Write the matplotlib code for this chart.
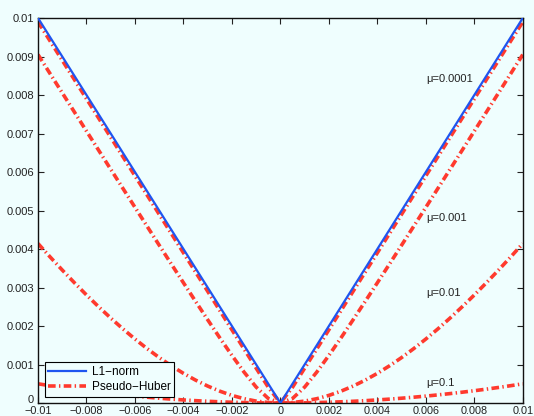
import matplotlib
matplotlib.use("Agg")
import matplotlib.pyplot as plt
import matplotlib.transforms as mtransforms
from matplotlib.lines import Line2D

plt.rcParams['font.family'] = ['Liberation Sans', 'DejaVu Sans']
plt.rcParams['lines.scale_dashes'] = False

x = [-0.01, -0.0095, -0.009, -0.0085, -0.008, -0.0075, -0.007, -0.0065, -0.006, -0.0055,
     -0.005, -0.0045, -0.004, -0.0035, -0.003, -0.0025, -0.002, -0.0015, -0.001, -0.0005,
     0.0,
     0.0005, 0.001, 0.0015, 0.002, 0.0025, 0.003, 0.0035, 0.004, 0.0045, 0.005,
     0.0055, 0.006, 0.0065, 0.007, 0.0075, 0.008, 0.0085, 0.009, 0.0095, 0.01]

l1_norm = [0.01, 0.0095, 0.009, 0.0085, 0.008, 0.0075, 0.007, 0.0065, 0.006, 0.0055,
           0.005, 0.0045, 0.004, 0.0035, 0.003, 0.0025, 0.002, 0.0015, 0.001, 0.0005,
           0.0,
           0.0005, 0.001, 0.0015, 0.002, 0.0025, 0.003, 0.0035, 0.004, 0.0045, 0.005,
           0.0055, 0.006, 0.0065, 0.007, 0.0075, 0.008, 0.0085, 0.009, 0.0095, 0.01]

huber_1e4 = [0.0099005, 0.0094005, 0.0089006, 0.0084006, 0.0079006, 0.0074007, 0.0069007,
             0.0064008, 0.0059008, 0.0054009, 0.004901, 0.0044011, 0.0039012, 0.0034014,
             0.0029017, 0.002402, 0.0019025, 0.0014033, 0.000905, 0.00041,
             0.0,
             0.00041, 0.000905, 0.0014033, 0.0019025, 0.002402, 0.0029017, 0.0034014,
             0.0039012, 0.0044011, 0.004901, 0.0054009, 0.0059008, 0.0064008, 0.0069007,
             0.0074007, 0.0079006, 0.0084006, 0.0089006, 0.0094005, 0.0099005]

huber_1e3 = [0.0090499, 0.0085525, 0.0080554, 0.0075586, 0.0070623, 0.0065664, 0.0060711,
             0.0055765, 0.0050828, 0.0045902, 0.004099, 0.0036098, 0.0031231, 0.0026401,
             0.0021623, 0.0016926, 0.0012361, 0.0008028, 0.0004142, 0.000118,
             0.0,
             0.000118, 0.0004142, 0.0008028, 0.0012361, 0.0016926, 0.0021623, 0.0026401,
             0.0031231, 0.0036098, 0.004099, 0.0045902, 0.0050828, 0.0055765, 0.0060711,
             0.0065664, 0.0070623, 0.0075586, 0.0080554, 0.0085525, 0.0090499]

huber_1e2 = [0.0041421, 0.0037931, 0.0034536, 0.0031244, 0.0028062, 0.0025, 0.0022066,
             0.0019269, 0.0016619, 0.0014127, 0.0011803, 0.0009659, 0.0007703, 0.0005948,
             0.0004403, 0.0003078, 0.000198, 0.0001119, 0.0000499, 0.0000125,
             0.0,
             0.0000125, 0.0000499, 0.0001119, 0.000198, 0.0003078, 0.0004403, 0.0005948,
             0.0007703, 0.0009659, 0.0011803, 0.0014127, 0.0016619, 0.0019269, 0.0022066,
             0.0025, 0.0028062, 0.0031244, 0.0034536, 0.0037931, 0.0041421]

huber_1e1 = [0.00049876, 0.00045023, 0.00040418, 0.0003606, 0.00031949, 0.00028085, 0.0002447,
             0.00021103, 0.00017984, 0.00015114, 0.00012492, 0.0001012, 0.00007997, 0.00006123,
             0.00004499, 0.00003125, 0.00002, 0.00001125, 0.000005, 0.00000125,
             0.0,
             0.00000125, 0.000005, 0.00001125, 0.00002, 0.00003125, 0.00004499, 0.00006123,
             0.00007997, 0.0001012, 0.00012492, 0.00015114, 0.00017984, 0.00021103, 0.0002447,
             0.00028085, 0.00031949, 0.0003606, 0.00040418, 0.00045023, 0.00049876]

mu_labels = ["\u03bc=0.0001", "\u03bc=0.001", "\u03bc=0.01", "\u03bc=0.1"]
mu_label_x = [0.0060, 0.0060, 0.0060, 0.0060]
mu_label_y = [0.00842, 0.0048, 0.00286, 0.00052]

x_ticks = [-0.01, -0.008, -0.006, -0.004, -0.002, 0, 0.002, 0.004, 0.006, 0.008, 0.01]
x_tick_labels = ["\u22120.01", "\u22120.008", "\u22120.006", "\u22120.004", "\u22120.002", "0",
                 "0.002", "0.004", "0.006", "0.008", "0.01"]
y_ticks = [0, 0.001, 0.002, 0.003, 0.004, 0.005, 0.006, 0.007, 0.008, 0.009, 0.01]
y_tick_labels = ["0", "0.001", "0.002", "0.003", "0.004", "0.005", "0.006", "0.007",
                 "0.008", "0.009", "0.01"]

bg = "#effefe"
blue = "#1f55f0"
red = "#ff3a2e"

fig = plt.figure(figsize=(5.34, 4.16), dpi=100, facecolor=bg)
ax = fig.add_axes([0.0712, 0.0312, 0.9078, 0.9255], facecolor=bg)

dash = (0, (5.5, 2.4, 1.0, 2.4))
ax.plot(x, huber_1e4, color=red, lw=2.6, linestyle=dash, zorder=2)
ax.plot(x, huber_1e3, color=red, lw=2.6, linestyle=dash, zorder=2)
ax.plot(x, huber_1e2, color=red, lw=2.6, linestyle=dash, zorder=2)
ax.plot(x, huber_1e1, color=red, lw=2.6, linestyle=dash, zorder=2)
ax.plot(x, l1_norm, color=blue, lw=1.6, linestyle='-', zorder=3)

for lab, lx, ly in zip(mu_labels, mu_label_x, mu_label_y):
    ax.text(lx, ly, lab, fontsize=8, ha='left', va='center', color='#222222')

handles = [Line2D([], [], color=blue, lw=1.6),
           Line2D([], [], color=red, lw=2.6, linestyle=dash)]
leg = ax.legend(handles, ["L1\u2212norm", "Pseudo\u2212Huber"], loc='lower left',
                fontsize=8.5, frameon=True, fancybox=False, borderaxespad=0.55,
                handlelength=3.2, labelspacing=0.25, borderpad=0.3, handletextpad=0.5)
leg.get_frame().set_edgecolor('black')
leg.get_frame().set_linewidth(0.8)
leg.get_frame().set_facecolor(bg)
leg.get_frame().set_alpha(1.0)

ax.set_xlim(-0.01, 0.01)
ax.set_ylim(0, 0.01)
ax.set_xticks(x_ticks)
ax.set_xticklabels(x_tick_labels)
ax.set_yticks(y_ticks)
ax.set_yticklabels(y_tick_labels)
ax.tick_params(direction='in', top=True, right=True, length=4, width=0.8,
               labelsize=8, pad=3, colors='#222222')
ax.tick_params(axis='x', pad=2, labelsize=7.8)
for s in ax.spines.values():
    s.set_linewidth(1.0)
    s.set_color('#111111')

# lift the "0" y label slightly so it does not collide with the first x label
zero_lbl = ax.get_yticklabels()[0]
zero_lbl.set_transform(zero_lbl.get_transform() +
                       mtransforms.ScaledTranslation(0, 3 / 72, fig.dpi_scale_trans))

fig.savefig("out.png", dpi=100, facecolor=bg)
